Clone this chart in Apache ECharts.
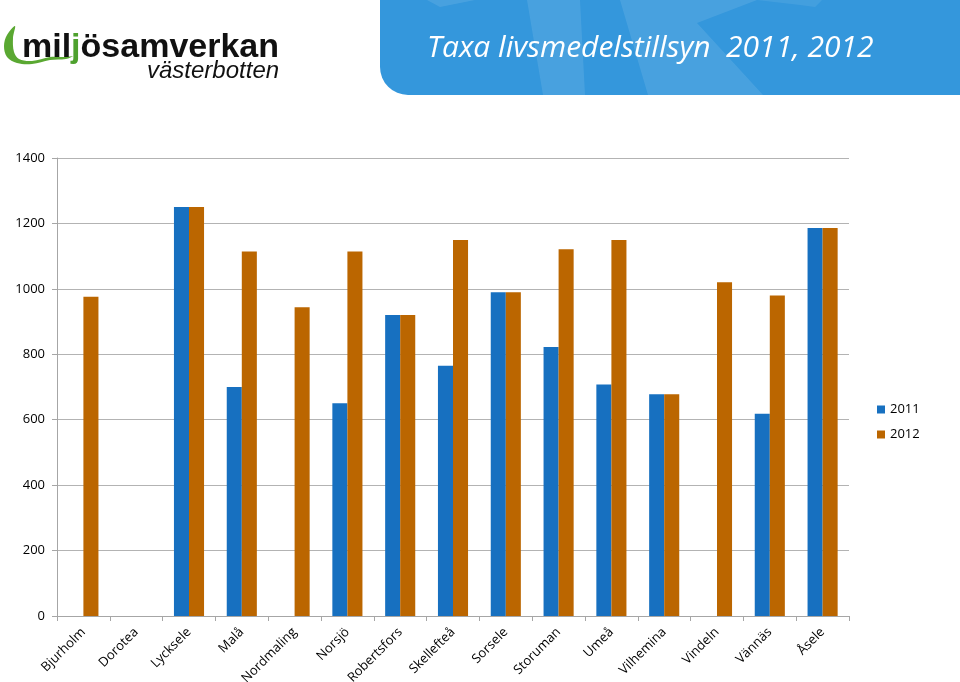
<!DOCTYPE html>
<html><head><meta charset="utf-8">
<script src="https://cdn.jsdelivr.net/npm/echarts@6/dist/echarts.min.js"></script>
<style>html,body{margin:0;padding:0;background:#fff}#c{width:960px;height:682px}</style>
</head><body><div id="c"></div>
<script>
const categories = ['Bjurholm','Dorotea','Lycksele','Malå','Nordmaling','Norsjö','Robertsfors','Skellefteå','Sorsele','Storuman','Umeå','Vilhemina','Vindeln','Vännäs','Åsele'];
const values2011 = [null, null, 1250, 700, null, 650, 920, 765, 990, 822, 708, 678, null, 618, 1186];
const values2012 = [976, null, 1250, 1114, 944, 1114, 920, 1149, 990, 1121, 1149, 678, 1020, 980, 1186];
const yTicks = {min: 0, max: 1400, interval: 200};
const seriesNames = ['2011', '2012'];
const titleText = 'Taxa livsmedelstillsyn  2011, 2012';

const chart = echarts.init(document.getElementById('c'));
const font = "'Open Sans', 'Liberation Sans', sans-serif";
chart.setOption({
  animation: false,
  backgroundColor: '#ffffff',
  grid: {left: 57, top: 158, width: 792, height: 458, outerBoundsMode: 'none', containLabel: false},
  legend: {
    orient: 'vertical', left: 872, top: 398, itemWidth: 8, itemHeight: 8, itemGap: 12,
    icon: 'rect', textStyle: {fontFamily: font, fontSize: 13, color: '#000'},
    data: seriesNames
  },
  xAxis: {
    type: 'category', data: categories,
    axisLine: {lineStyle: {color: '#a6a6a6'}},
    axisTick: {show: true, alignWithLabel: false, length: 5, lineStyle: {color: '#a6a6a6'}},
    axisLabel: {rotate: 45, interval: 0, fontFamily: font, fontSize: 13, color: '#000', margin: 14}
  },
  yAxis: {
    type: 'value', min: yTicks.min, max: yTicks.max, interval: yTicks.interval,
    axisLine: {show: true, lineStyle: {color: '#a6a6a6'}},
    axisTick: {show: true, length: 5, lineStyle: {color: '#a6a6a6'}},
    splitLine: {lineStyle: {color: '#b3b3b3', width: 1}},
    axisLabel: {fontFamily: font, fontSize: 13, color: '#000', margin: 12, formatter: function (v) { return String(v); }}
  },
  series: [
    {name: seriesNames[0], type: 'bar', data: values2011, barGap: '0%', barCategoryGap: '43%', itemStyle: {color: '#1770c0'}},
    {name: seriesNames[1], type: 'bar', data: values2012, barGap: '0%', barCategoryGap: '43%', itemStyle: {color: '#bb6600'}}
  ],
  graphic: [
    {type: 'rect', x: 380, y: 0, shape: {x: 0, y: 0, width: 580, height: 95, r: [0, 0, 0, 28]}, style: {fill: '#3497dc'}, z: 1},
    {type: 'polygon', shape: {points: [[427, 0], [475, 0], [440, 7]]}, style: {fill: 'rgba(255,255,255,0.10)'}, z: 2},
    {type: 'polygon', shape: {points: [[527, 0], [580, 0], [585, 95], [543, 95]]}, style: {fill: 'rgba(255,255,255,0.10)'}, z: 2},
    {type: 'polygon', shape: {points: [[620, 0], [757, 0], [697, 23], [763, 95], [648, 95]]}, style: {fill: 'rgba(255,255,255,0.10)'}, z: 2},
    {type: 'polygon', shape: {points: [[757, 0], [822, 0], [815, 7], [800, 5]]}, style: {fill: 'rgba(255,255,255,0.08)'}, z: 2},
    {type: 'text', x: 427, y: 33, style: {text: titleText, fill: '#ffffff', font: "italic 30px 'Open Sans', 'Liberation Sans', sans-serif"}, z: 3},
    {type: 'polygon', shape: {smooth: 0.35, points: [[15, 26], [7, 35], [4, 46], [7, 57], [17, 63], [32, 64], [50, 60], [66, 59], [73, 56], [66, 57], [50, 57], [32, 61], [19, 59], [14, 52], [13, 38]]}, style: {fill: '#5aa832'}, z: 3},
    {type: 'text', x: 22, y: 31, style: {rich: {
        k: {fill: '#111', font: "bold 34px 'Liberation Sans', sans-serif"},
        g: {fill: '#4ea12e', font: "bold 34px 'Liberation Sans', sans-serif"}
      }, text: '{k|mil}{g|j}{k|ösamverkan}'}, z: 3},
    {type: 'text', x: 147, y: 59, style: {text: 'västerbotten', fill: '#111', font: "italic 24px 'Liberation Sans', sans-serif"}, z: 3}
  ]
});
</script></body></html>
